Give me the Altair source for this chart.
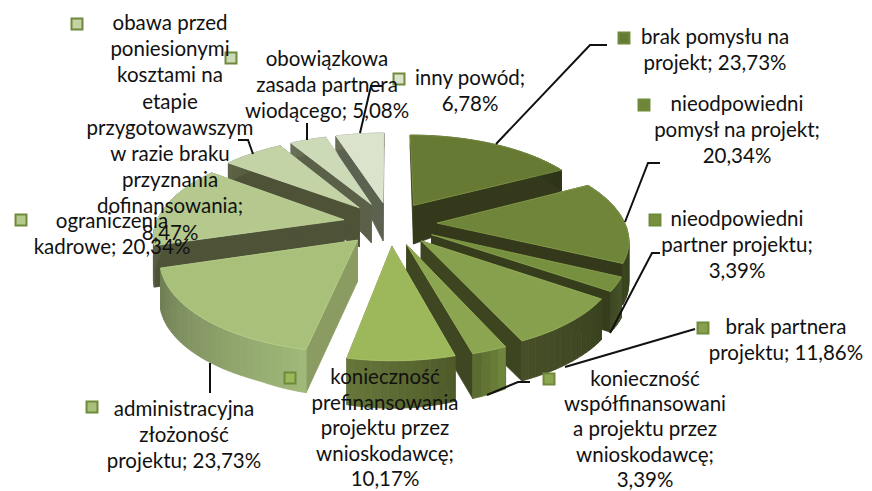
import math
import altair as alt
import numpy as np

# ---- chart values (percent labels)
CATEGORIES = ["brak pomysłu na projekt", "nieodpowiedni pomysł na projekt", "nieodpowiedni partner projektu",
              "brak partnera projektu", "konieczność współfinansowania projektu przez wnioskodawcę",
              "konieczność prefinansowania projektu przez wnioskodawcę", "administracyjna złożoność projektu",
              "ograniczenia kadrowe", "obawa przed poniesionymi kosztami", "obowiązkowa zasada partnera wiodącego",
              "inny powód"]
VALUES = [23.73, 20.34, 3.39, 11.86, 3.39, 10.17, 23.73, 20.34, 8.47, 5.08, 6.78]
TOP = ["#667a34", "#6f8539", "#77903f", "#87a04d", "#8ba550", "#9cb85b", "#a8c07a", "#b5c98e", "#c3d3a5", "#cddab8", "#dbe3cc"]
ARC_A = ["#3a4220", "#3f4a22", "#47542a", "#3a4320", "#6f843c", "#4f5c2a", "#a0b878", "#5d6345", "#5d6345", "#6a7058", "#6a7058"]
ARC_B = ["#2f3518", "#3a4420", "#3f4a24", "#474f28", "#5a6c30", "#66763a", "#6f7d55", "#4e5338", "#4e5338", "#5b6049", "#5c6250"]
RADIAL = ["#33391a", "#33391a", "#363d1c", "#3c4420", "#3e4721", "#46522a", "#8a9c62", "#4e5338", "#4e5338", "#5b6049", "#5c6250"]
EDGE = ["#7d9440", "#86a04a", "#8fa850", "#9db55c", "#a2ba60", "#aec86c", "#b9cf8c", "#c4d69e", "#d0deb4", "#d8e3c6", "#e3ead8"]

# ---- text: lines of each data label, then where the label sits
LABELS = [
    ["brak pomysłu na", "projekt; 23,73%"],
    ["nieodpowiedni", "pomysł na projekt;", "20,34%"],
    ["nieodpowiedni", "partner projektu;", "3,39%"],
    ["brak partnera", "projektu; 11,86%"],
    ["konieczność", "współfinansowani", "a projektu przez", "wnioskodawcę;", "3,39%"],
    ["konieczność", "prefinansowania", "projektu przez", "wnioskodawcę;", "10,17%"],
    ["administracyjna", "złożoność", "projektu; 23,73%"],
    ["ograniczenia", "kadrowe; 20,34%"],
    ["obawa przed", "poniesionymi", "kosztami na", "etapie", "przygotowawszym", "w razie braku",
     "przyznania", "dofinansowania;", "8,47%"],
    ["obowiązkowa", "zasada partnera", "wiodącego; 5,08%"],
    ["inny powód;", "6,78%"],
]
LABEL_X = [715, 737, 737, 786, 645, 385, 184, 112, 170, 327, 470]
LABEL_Y = [38, 105, 220, 328, 380, 378, 410, 222, 24, 60, 79]
LABEL_LH = [26.2, 26.2, 26.2, 26.2, 25.2, 25.6, 26.2, 26.2, 26.2, 26.2, 26.2]
KEY_X = [624, 644, 655, 703, 549, 290, 92, 21, 77, 231, 399]
KEY_Y = [38, 105, 220, 328, 379, 378, 407, 220, 24, 58, 79]
LEADERS = [
    [(496, 144), (590, 45), (607, 45)],
    [(625, 222), (648, 163), (660, 163)],
    [(610, 333), (652, 253), (660, 253)],
    [(565, 367), (695, 329)],
    [(487, 395), (518, 382), (530, 382)],
    [(210, 363), (210, 393)],
    [(238, 140), (248, 140), (253, 154)],
    [(307, 123), (307, 140)],
    [(360, 133), (371, 86), (383, 86)],
]

# ---- view of the tilted pie
CX, CY, R, A, P, EXPLODE = 390, 223.5, 188, 87.3, 0.164, 0.25
DEPTH_V = [-1.3, -1.1, 0.0, 0.25, 0.7, 1.2]
DEPTH_D = [50, 40, 42, 38, 20, 14]
OX, OY = 8, 8
W, H = 856, 483


def project(u, v, drop=False):
    den = 1 + P * v
    x = CX + R * u / den
    y = CY - A * v / den
    if drop:
        y += float(np.interp(v, DEPTH_V, DEPTH_D))
    return [x - OX, y - OY]


def mix(c1, c2, t):
    a = [int(c1[i:i + 2], 16) for i in (1, 3, 5)]
    b = [int(c2[i:i + 2], 16) for i in (1, 3, 5)]
    return "#%02x%02x%02x" % tuple(round(p + (q - p) * t) for p, q in zip(a, b))


def poly(points, fill, stroke, order):
    pts = points + [points[0]]
    return {"type": "Feature", "geometry": {"type": "Polygon", "coordinates": [pts]},
            "properties": {"fill": fill, "stroke": stroke, "order": order}}


total = sum(VALUES)
edges = np.cumsum([0] + VALUES) / total * 2 * math.pi
slices = []
for i in range(len(VALUES)):
    a0, a1 = edges[i], edges[i + 1]
    mid = (a0 + a1) / 2
    slices.append((math.cos(mid), i, a0, a1, mid))
slices.sort(key=lambda s: -s[0])

features = [poly([[0, 0], [W, 0], [W, H], [0, H]], "transparent", "transparent", -1)]
for _, i, a0, a1, mid in slices:
    ex, ey = EXPLODE * math.sin(mid), EXPLODE * math.cos(mid)
    n = max(3, int(math.degrees(a1 - a0) / 2))
    th = np.linspace(a0, a1, n + 1)
    rim = [(ex + math.sin(t), ey + math.cos(t)) for t in th]
    tip = (ex, ey)
    for uv in (rim[0], rim[-1]):
        q = [project(*tip), project(*uv), project(*uv, True), project(*tip, True)]
        features.append(poly(q, RADIAL[i], RADIAL[i], i))
    for k in range(n):
        col = mix(ARC_A[i], ARC_B[i], k / max(1, n - 1))
        q = [project(*rim[k]), project(*rim[k + 1]), project(*rim[k + 1], True), project(*rim[k], True)]
        features.append(poly(q, col, col, i))
    top = [project(*tip)] + [project(*uv) for uv in rim]
    features.append(poly(top, TOP[i], EDGE[i], i))

pie = alt.Chart(alt.Data(values=features)).mark_geoshape(strokeWidth=0.8).encode(
    fill=alt.Fill("properties.fill:N", scale=None),
    stroke=alt.Stroke("properties.stroke:N", scale=None),
).project(type="identity", scale=1, translate=[0, 0])

line_rows = []
for j, path in enumerate(LEADERS):
    for k, (x, y) in enumerate(path):
        line_rows.append({"id": j, "k": k, "x": x - OX, "y": y - OY})
leaders = alt.Chart(alt.Data(values=line_rows)).mark_line(color="#111111", strokeWidth=2).encode(
    x=alt.X("x:Q", scale=None, axis=None),
    y=alt.Y("y:Q", scale=None, axis=None),
    detail="id:N", order="k:Q",
)

text_rows = []
for lines, x, y, lh in zip(LABELS, LABEL_X, LABEL_Y, LABEL_LH):
    for k, s in enumerate(lines):
        text_rows.append({"t": s, "x": x - OX, "y": y - OY + k * lh})
labels = alt.Chart(alt.Data(values=text_rows)).mark_text(
    font="Lato", fontSize=20.5, color="#111111", align="center", baseline="middle"
).encode(
    x=alt.X("x:Q", scale=None, axis=None),
    y=alt.Y("y:Q", scale=None, axis=None),
    text="t:N",
)

key_rows = [{"x": x - OX, "y": y - OY, "c": c, "cat": n} for x, y, c, n in zip(KEY_X, KEY_Y, TOP, CATEGORIES)]
keys = alt.Chart(alt.Data(values=key_rows)).mark_square(size=120, stroke="#6f8a3a", strokeWidth=2, opacity=1).encode(
    x=alt.X("x:Q", scale=None, axis=None),
    y=alt.Y("y:Q", scale=None, axis=None),
    fill=alt.Fill("c:N", scale=None),
)

chart = alt.layer(pie, leaders, keys, labels).properties(
    width=W, height=H, padding=0, autosize=alt.AutoSizeParams(type="none"), background="white"
).configure_view(stroke=None)

chart.save("out.html", embed_options={"renderer": "svg", "actions": False})
